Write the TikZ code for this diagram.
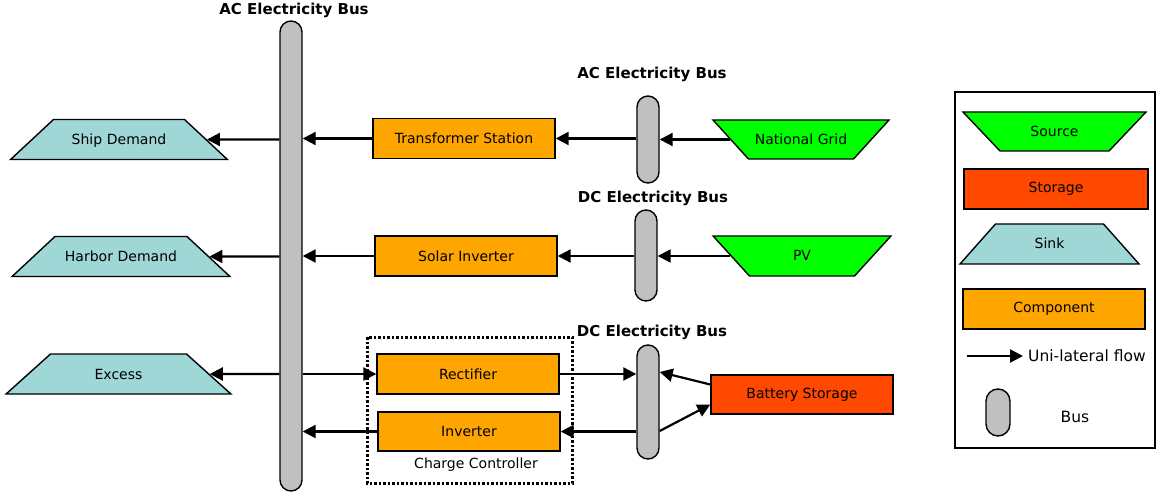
\documentclass[tikz,border=0pt]{standalone}
\usepackage{fontspec}
\setmainfont{DejaVu Sans}
\usepackage{tikz}
\usetikzlibrary{arrows.meta}
\usetikzlibrary{shapes.geometric}
\definecolor{sinkcol}{RGB}{159,214,214}
\definecolor{sourcecol}{RGB}{0,255,0}
\definecolor{storecol}{RGB}{255,72,0}
\definecolor{compcol}{RGB}{255,165,0}
\definecolor{buscol}{RGB}{192,192,192}
\tikzset{flowarrow/.style = {line width=2.2pt, -{Triangle[length=13pt, width=13pt]}}}
\tikzset{busbar/.style = {draw, fill=buscol, line width=1.4pt, minimum width=22, inner sep=0,
                          rounded corners=11pt}}
\tikzset{bustitle/.style = {font=\fontsize{15}{17}\selectfont\bfseries}}
\tikzset{compbox/.style = {draw, fill=compcol, line width=1.4pt, minimum width=182,
                           minimum height=40, inner sep=0, font=\fontsize{14}{16}\selectfont}}
\tikzset{storebox/.style = {compbox, fill=storecol}}
\tikzset{sinkbox/.style = {trapezium, draw, fill=sinkcol, line width=1.4pt,
                           inner xsep=0, inner ysep=14pt, text height=11pt, text depth=1pt,
                           align=center, trapezium left angle=43, trapezium right angle=43,
                           font=\fontsize{14}{16}\selectfont}}
\tikzset{sourcebox/.style = {sinkbox, fill=sourcecol,
                             trapezium left angle=132.3, trapezium right angle=132.3}}

\begin{document}
\begin{tikzpicture}[x=1pt, y=-1pt]
      \useasboundingbox (0, 0) rectangle (1156, 494);

      % buses
      \node [busbar, minimum height=470] (acbus) at (291, 256) {};
      \node [bustitle] (acbustitle) at (294, 10) {AC Electricity Bus};
      \node [busbar, minimum height=87] (acbussmall) at (648, 139.5) {};
      \node [bustitle] (acbussmalltitle) at (652, 74) {AC Electricity Bus};
      \node [busbar, minimum height=91] (dcbusone) at (646, 255.5) {};
      \node [bustitle] (dcbusonetitle) at (653, 198) {DC Electricity Bus};
      \node [busbar, minimum height=114] (dcbustwo) at (648, 402) {};
      \node [bustitle] (dcbustwotitle) at (652, 332) {DC Electricity Bus};

      % sinks
      \node [sinkbox, text width=131] (ship) at (119, 139.5) {Ship Demand};
      \node [sinkbox, text width=132] (harbor) at (121, 256.5) {Harbor Demand};
      \node [sinkbox, text width=136, trapezium left angle=42, trapezium right angle=42] (excess) at (118.5, 374) {Excess};

      % components
      \node [compbox] (trans) at (464, 138.5) {Transformer Station};
      \node [compbox] (solar) at (466, 256) {Solar Inverter};
      \node [compbox] (rect) at (468, 374) {Rectifier};
      \node [compbox, minimum height=39] (inv) at (469, 431.5) {Inverter};
      \draw [line width=3pt, dash pattern=on 2.5pt off 2pt] (367, 337) rectangle (572, 483);
      \node [font=\fontsize{14}{16}\selectfont] (cclabel) at (476, 465) {Charge Controller};

      % sources and storage
      \node [sourcebox, text width=105, inner ysep=13.5pt] (grid) at (801, 139.5) {National Grid};
      \node [sourcebox, text width=105] (pv) at (802, 256) {PV};
      \node [storebox, minimum height=39] (battery) at (802, 394.5) {Battery Storage};

      % flows
      \draw [flowarrow] (acbus.west |- ship) -- (ship.east);
      \draw [flowarrow] (acbus.west |- harbor) -- (harbor.east);
      \draw [flowarrow] (acbus.west |- excess) -- (excess.east);
      \draw [flowarrow] (trans.west) -- (trans.west -| acbus.east);
      \draw [flowarrow] (acbussmall.west |- trans) -- (trans.east);
      \draw [flowarrow] (grid.west) -- (grid.west -| acbussmall.east);
      \draw [flowarrow] (solar.west) -- (solar.west -| acbus.east);
      \draw [flowarrow] (dcbusone.west |- solar) -- (solar.east);
      \draw [flowarrow] (pv.west) -- (pv.west -| dcbusone.east);
      \draw [flowarrow] (acbus.east |- rect) -- (rect.west);
      \draw [flowarrow] (rect.east) -- (rect.east -| dcbustwo.west);
      \draw [flowarrow] ([yshift=10pt]battery.west) -- ([yshift=30pt]dcbustwo.east);
      \draw [flowarrow] ([yshift=-29pt]dcbustwo.east) -- ([yshift=-10pt]battery.west);
      \draw [flowarrow] (dcbustwo.west |- inv) -- (inv.east);
      \draw [flowarrow] (inv.west) -- (inv.west -| acbus.east);

      % legend
      \draw [line width=1.4pt] (955, 92) rectangle (1155, 448);
      \node [sourcebox, text width=109, inner ysep=13.5pt,
             trapezium left angle=133.5, trapezium right angle=133.5] (legsource) at (1054.5, 131.5) {Source};
      \node [storebox, minimum width=184] (legstore) at (1056, 189) {Storage};
      \node [sinkbox, text width=108, trapezium left angle=48.4, trapezium right angle=48.4] (legsink) at (1049.5, 244) {Sink};
      \node [compbox] (legcomp) at (1054, 309) {Component};
      \coordinate (legflowstart) at (967, 356);
      \node [anchor=west, inner sep=0, font=\fontsize{15.5}{17}\selectfont] (legflow) at (1028, 356) {Uni-lateral flow};
      \draw [flowarrow] (legflowstart) -- ([xshift=-5pt]legflow.west);
      \node [busbar, minimum width=24, minimum height=47, rounded corners=12pt] (legbus) at (998, 412.5) {};
      \node [font=\fontsize{15.5}{17}\selectfont] (legbuslabel) at (1075, 417) {Bus};
    \end{tikzpicture}
\end{document}
